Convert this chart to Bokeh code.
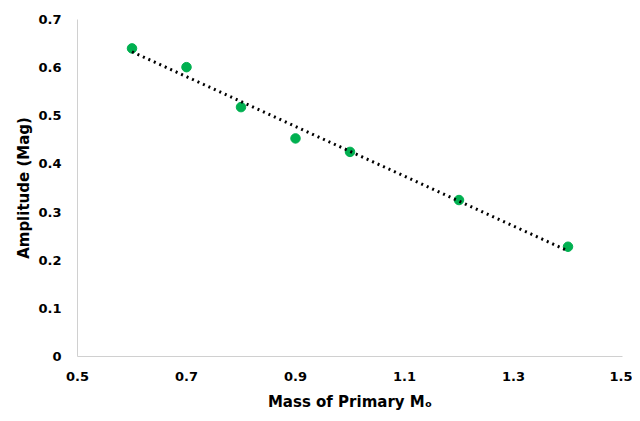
import numpy as np
from bokeh.plotting import figure
from bokeh.models import FixedTicker
from bokeh.embed import file_html
from bokeh.resources import INLINE

mass = [0.6, 0.7, 0.8, 0.9, 1.0, 1.2, 1.4]
amplitude = [0.640, 0.601, 0.518, 0.453, 0.425, 0.325, 0.228]
x_ticks = [0.5, 0.7, 0.9, 1.1, 1.3, 1.5]
y_ticks = [0, 0.1, 0.2, 0.3, 0.4, 0.5, 0.6, 0.7]

# linear trendline (least squares) as in the original chart
slope, intercept = np.polyfit(mass, amplitude, 1)
trend_x = [min(mass), max(mass)]
trend_y = [slope * v + intercept for v in trend_x]

p = figure(width=632, height=413, x_range=(0.5, 1.5), y_range=(0, 0.7),
           output_backend="svg", toolbar_location=None,
           min_border_left=77, min_border_right=10, min_border_top=19, min_border_bottom=56)
p.outline_line_color = None
p.xgrid.visible = False
p.ygrid.visible = False

font = "DejaVu Sans"
for ax in (p.xaxis[0], p.yaxis[0]):
    ax.major_tick_line_color = None
    ax.minor_tick_line_color = None
    ax.axis_line_color = "#d0d0d0"
    ax.major_label_text_font = font
    ax.major_label_text_font_style = "bold"
    ax.major_label_text_font_size = "13px"
    ax.major_label_text_color = "black"
    ax.axis_label_text_font = font
    ax.axis_label_text_font_style = "bold"
    ax.axis_label_text_font_size = "15px"
    ax.axis_label_text_color = "black"

p.xaxis.ticker = FixedTicker(ticks=x_ticks)
p.yaxis.ticker = FixedTicker(ticks=y_ticks)
p.xaxis.major_label_overrides = {t: f"{t:g}" for t in x_ticks}
p.yaxis.major_label_overrides = {t: f"{t:g}" for t in y_ticks}
p.xaxis.major_label_standoff = 9
p.yaxis.major_label_standoff = 10
p.xaxis.axis_label = "Mass of Primary M\u2092"
p.yaxis.axis_label = "Amplitude (Mag)"
p.xaxis.axis_label_standoff = 9
p.yaxis.axis_label_standoff = 2

p.scatter(mass, amplitude, size=9.5, color="#00b050")
p.line(trend_x, trend_y, line_color="black", line_width=3, line_dash="2 4")

open("out.html", "w").write(file_html(p, INLINE))
